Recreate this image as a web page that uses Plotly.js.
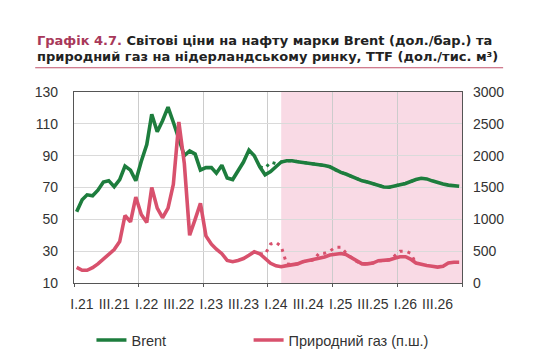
<!DOCTYPE html>
<html><head><meta charset="utf-8">
<script src="https://cdn.plot.ly/plotly-3.0.1.min.js"></script>
<style>html,body{margin:0;padding:0;background:#fff;} #chart{width:537px;height:363px;}</style>
</head><body><div id="chart"></div>
<script>
// Monthly data, Jan 2021 – Dec 2026
const startYear = 2021;
const brent = [
  54.8, 62.3, 65.4, 64.8, 68.3, 73.4, 74.3, 70.5, 74.9, 83.5, 80.9, 74.2,
  86.5, 97.0, 116.0, 105.0, 112.0, 120.5, 111.0, 100.0, 90.0, 93.0, 91.0, 81.0,
  82.5, 82.5, 79.0, 84.0, 76.0, 75.0, 80.0, 86.0, 93.5, 90.0, 83.0, 78.0,
  80.0, 83.5, 86.0, 86.8, 86.8, 86.2, 85.8, 85.4, 84.8, 84.3, 83.8, 83.0,
  81.0, 79.5, 78.5, 77.0, 75.5, 74.2, 73.5, 72.5, 71.2, 70.3, 70.2, 71.2,
  71.8, 72.5, 73.8, 75.0, 75.8, 75.4, 74.2, 73.0, 72.2, 71.5, 71.0, 70.8
];
const gas = [
  245, 200, 200, 240, 300, 370, 440, 525, 650, 1060, 960, 1350,
  1075, 950, 1500, 1175, 1025, 1175, 1550, 2530, 1875, 750, 1000, 1250,
  740, 610, 530, 460, 355, 335, 355, 385, 435, 490, 460, 385,
  310, 270, 255, 273, 290, 300, 333, 353, 363, 380, 410, 440,
  458, 463, 450, 400, 338, 300, 300, 313, 350, 350, 363, 390,
  413, 413, 375, 313, 288, 275, 263, 250, 263, 313, 325, 325
];
// Previous forecast (dotted), from Nov 2023 (index 34) to Apr 2026
const prevStart = 34;
const brentPrev = [
  83.0, 82.0, 86.0, 85.0, 86.0, 86.8, 86.8, 86.2, 85.8, 85.4, 84.8, 84.3, 83.8, 83.0,
  81.0, 79.5, 78.5, 77.0, 75.5, 74.2, 73.5, 72.5, 71.2, 70.3, 70.2, 71.2,
  71.8, 72.5, 73.8, 75.0
];
const gasPrev = [
  460, 450, 613, 638, 575, 300, 290, 300, 333, 353, 363, 468, 468, 500,
  563, 563, 475, 400, 338, 300, 300, 313, 350, 350, 363, 425,
  500, 500, 468, 313
];
const tickLabels = ['I.21','III.21','I.22','III.22','I.23','III.23','I.24','III.24','I.25','III.25','I.26','III.26'];
const tickDates = ['2021-02-15','2021-08-16','2022-02-15','2022-08-16','2023-02-15','2023-08-16',
                   '2024-02-15','2024-08-16','2025-02-15','2025-08-16','2026-02-15','2026-08-16'];
const forecastStart = '2024-03-16';
const axisEnd = '2027-01-01';
const titleLabel = 'Графік 4.7.';
const titleLine1 = 'Світові ціни на нафту марки Brent (дол./бар.) та';
const titleLine2 = 'природний газ на нідерландському ринку, TTF (дол./тис. м³)';

const monthDate = i => {
  const y = startYear + Math.floor(i / 12);
  const m = (i % 12) + 1;
  return y + '-' + String(m).padStart(2, '0') + '-16';
};
const months = brent.map((_, i) => monthDate(i));
const prevMonths = brentPrev.map((_, i) => monthDate(prevStart + i));

const FONT = '"Liberation Sans", Arial, sans-serif';
const TITLE_FONT = '"DejaVu Sans", "Liberation Sans", sans-serif';
const GREEN = '#1d7d3d';
const RED = '#d8516d';

const traces = [
  {x: prevMonths, y: brentPrev, yaxis: 'y', mode: 'lines', showlegend: false, hoverinfo: 'skip',
   line: {color: GREEN, width: 3, dash: '3px,5px'}},
  {x: prevMonths, y: gasPrev, yaxis: 'y2', mode: 'lines', showlegend: false, hoverinfo: 'skip',
   line: {color: RED, width: 3, dash: '3px,5px'}},
  {x: months, y: brent, yaxis: 'y', mode: 'lines', name: 'Brent', legend: 'legend',
   line: {color: GREEN, width: 3.6}},
  {x: months, y: gas, yaxis: 'y2', mode: 'lines', name: 'Природний газ (п.ш.)', legend: 'legend2',
   line: {color: RED, width: 3.6}}
];

const tickFont = {family: FONT, size: 14, color: '#333'};
const titleFont = {family: TITLE_FONT, size: 13, color: '#222', weight: 'bold'};
const legendFont = {family: FONT, size: 14.5, color: '#333'};

const layout = {
  width: 537, height: 363,
  margin: {l: 74, r: 75, t: 92, b: 80, autoexpand: false},
  paper_bgcolor: '#fff', plot_bgcolor: '#fff',
  annotations: [
    {xref: 'paper', yref: 'paper', x: -0.1, y: 1.272, xanchor: 'left', yanchor: 'middle',
     showarrow: false, font: titleFont,
     text: '<span style="color:#a8385a">' + titleLabel + '</span> ' + titleLine1},
    {xref: 'paper', yref: 'paper', x: -0.1, y: 1.188, xanchor: 'left', yanchor: 'middle',
     showarrow: false, font: titleFont, text: titleLine2}
  ],
  xaxis: {
    type: 'date', range: ['2021-01-01', axisEnd], automargin: false,
    tickmode: 'array', tickvals: tickDates, ticktext: tickLabels,
    ticks: '', showgrid: false, zeroline: false,
    showline: true, mirror: true, linecolor: '#555', linewidth: 1.2,
    tickfont: tickFont, ticklabelstandoff: 8,
    minor: {tickmode: 'linear', tick0: '2021-01-01', dtick: 'M12', showgrid: true,
            gridcolor: '#cccccc', gridwidth: 1, ticks: 'outside', ticklen: 3, tickcolor: '#555'}
  },
  yaxis: {
    range: [10, 130], tick0: 10, dtick: 20, showgrid: true, gridcolor: '#dadada', gridwidth: 1,
    zeroline: false, showline: true, mirror: true, linecolor: '#555', linewidth: 1.2,
    ticks: '', tickfont: tickFont, ticklabelstandoff: 12, automargin: false
  },
  yaxis2: {
    overlaying: 'y', side: 'right', range: [0, 3000], tick0: 0, dtick: 500,
    showgrid: false, zeroline: false, showline: false, ticks: '',
    tickfont: tickFont, ticklabelstandoff: 10, automargin: false
  },
  shapes: [
    {type: 'rect', xref: 'x', yref: 'paper', x0: forecastStart, x1: axisEnd, y0: 0, y1: 1,
     fillcolor: '#f9dae5', line: {width: 0}, layer: 'below'},
    {type: 'line', xref: 'paper', yref: 'paper', x0: -0.1, x1: 1.106, y0: 1.127, y1: 1.127,
     line: {color: '#c0506a', width: 1.2}}
  ],
  showlegend: true,
  legend: {
    orientation: 'h', x: 0.045, xanchor: 'left', y: -0.215, yanchor: 'top',
    font: legendFont, bgcolor: 'rgba(0,0,0,0)'
  },
  legend2: {
    orientation: 'h', x: 0.45, xanchor: 'left', y: -0.215, yanchor: 'top',
    font: legendFont, bgcolor: 'rgba(0,0,0,0)'
  }
};

Plotly.newPlot('chart', traces, layout, {staticPlot: true, displayModeBar: false});
</script>
</body></html>
